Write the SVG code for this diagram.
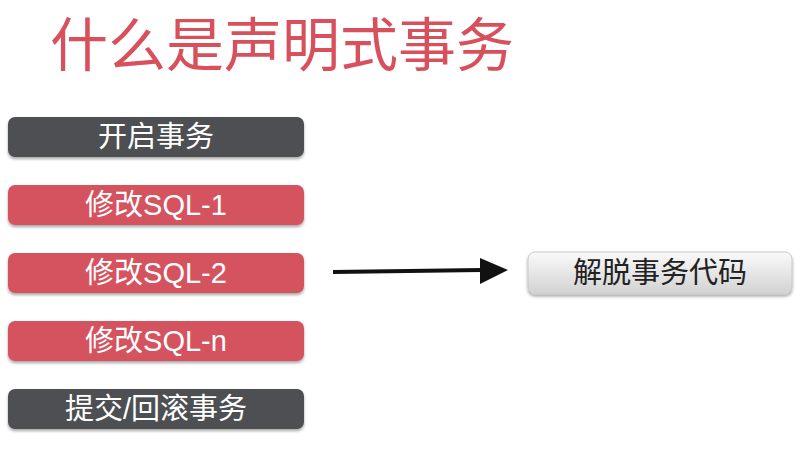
<svg xmlns="http://www.w3.org/2000/svg" width="802" height="472" viewBox="0 0 802 472">
<defs>
<style>
.t{font-family:"Liberation Sans","Noto Sans CJK SC",sans-serif;font-size:29px;text-anchor:middle}
.dark{fill:#4d4f53}.red{fill:#d5535f}
.w{fill:#fff}
</style>
<linearGradient id="g" x1="0" y1="0" x2="0" y2="1"><stop offset="0" stop-color="#fafafa"/><stop offset="1" stop-color="#d2d2d2"/></linearGradient>
<filter id="s" x="-5%" y="-20%" width="110%" height="150%"><feDropShadow dx="0" dy="2" stdDeviation="1.5" flood-opacity="0.35"/></filter>
</defs>
<rect width="802" height="472" fill="#fff"/>
<text x="50" y="66" font-family="Noto Sans CJK SC,sans-serif" font-size="58" fill="#d9505d">什么是声明式事务</text>
<g id="n1"><rect x="8" y="117" width="296" height="40" rx="7" class="dark" filter="url(#s)"/><text x="156" y="147" class="t w">开启事务</text></g>
<g id="n2"><rect x="8" y="185" width="296" height="40" rx="7" class="red" filter="url(#s)"/><text x="156" y="215" class="t w">修改SQL-1</text></g>
<g id="n3"><rect x="8" y="253" width="296" height="40" rx="7" class="red" filter="url(#s)"/><text x="156" y="283" class="t w">修改SQL-2</text></g>
<g id="n4"><rect x="8" y="321" width="296" height="40" rx="7" class="red" filter="url(#s)"/><text x="156" y="351" class="t w">修改SQL-n</text></g>
<g id="n5"><rect x="8" y="389" width="296" height="40" rx="7" class="dark" filter="url(#s)"/><text x="156" y="419" class="t w">提交/回滚事务</text></g>
<g id="n6"><rect x="528" y="252" width="264" height="42" rx="7" fill="url(#g)" stroke="#c8c8c8" filter="url(#s)"/><text x="660" y="283" class="t" fill="#222">解脱事务代码</text></g>
<g id="connectors">
<path d="M333 272 L482 270" stroke="#111" stroke-width="4" fill="none"/>
<path d="M480 258 L508 270 L480 284 Z" fill="#111"/>
</g>
</svg>
